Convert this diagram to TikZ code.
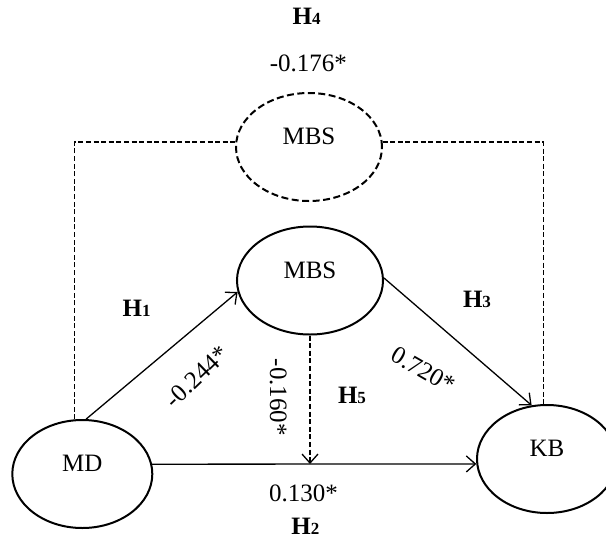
\documentclass[tikz,border=0pt]{standalone}
\usepackage{fontspec}
\setmainfont{Liberation Serif}
\usetikzlibrary{shapes.geometric,arrows.meta}
\tikzset{
  latent/.style={ellipse,draw,line width=2pt,inner sep=0pt,minimum width=146pt,minimum height=108pt},
  sideell/.style={ellipse,draw,line width=2pt,inner sep=0pt,minimum width=140pt,minimum height=108pt},
  dashell/.style={latent,dash pattern=on 7pt off 3.5pt},
  lbl/.style={font=\fontsize{25}{27}\selectfont,inner sep=0pt},
  hyp/.style={font=\fontsize{25}{27}\selectfont\bfseries,inner sep=0pt},
  path/.style={line width=1.3pt,-{Straight Barb[length=9pt,width=16pt,line width=1.3pt]}},
  dline/.style={line width=1.3pt,dash pattern=on 5pt off 2.6pt},
}
\newcommand{\hnum}[1]{{\fontsize{17}{17}\selectfont #1}}
\begin{document}
\begin{tikzpicture}[x=1pt,y=-1pt]
\useasboundingbox (0,0) rectangle (606,542);
\node[dashell] (mbsT) at (309,147) {};
\node[latent] (mbs) at (310,280.5) {};
\node[sideell] (md) at (82.3,474) {};
\node[sideell] (kb) at (547,459) {};
\node[lbl] (tmbsT) at ([yshift=10.5pt]mbsT.center) {MBS};
\node[lbl] (tmbs) at ([yshift=10.5pt]mbs.center) {MBS};
\node[lbl] (tmd) at ([yshift=10.5pt]md.center) {MD};
\node[lbl] (tkb) at ([yshift=10.5pt]kb.center) {KB};
% moderation (dashed)
\draw[dline] (md.98) |- (mbsT.176);
\draw[dline] (mbsT.4) -| (kb.94);
% paths
\draw[path] (md.86) -- (mbs.189);
\draw[path] (mbs.2) -- (kb.106);
\draw[path] (md.8) -- (kb.184);
\coordinate (j) at (310,464);
\draw[dline,-{Straight Barb[length=9pt,width=16pt,line width=1.3pt]}] (mbs.south) -- (j);
% labels
\node[hyp] (h4) at (306.7,16.7) {H\hnum{4}};
\node[lbl] (c4) at (308.3,63.3) {-0.176*};
\node[hyp] (h1) at (136.7,308.3) {H\hnum{1}};
\node[hyp] (h3) at (477,299) {H\hnum{3}};
\node[lbl,rotate=44] (c1) at (196.7,376.7) {-0.244*};
\node[lbl,rotate=-30] (c3) at (423.3,370) {0.720*};
\node[lbl,rotate=-90] (c5) at (278.3,397.3) {-0.160*};
\node[hyp] (h5) at (352,395) {H\hnum{5}};
\node[lbl] (c2) at (303.4,493.3) {0.130*};
\node[hyp] (h2) at (305.4,526.5) {H\hnum{2}};
\end{tikzpicture}
\end{document}
